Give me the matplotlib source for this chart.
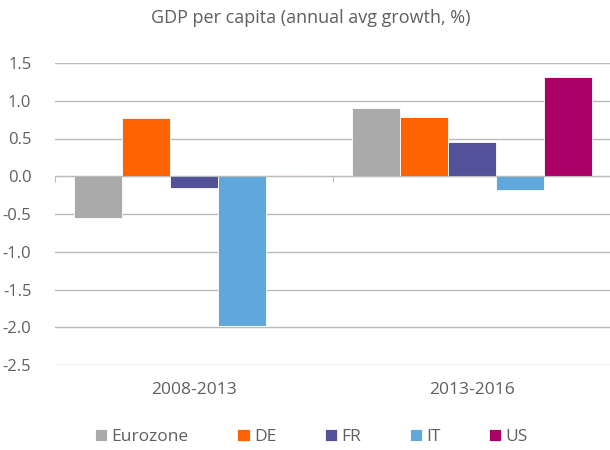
import matplotlib
matplotlib.use("Agg")
import matplotlib.pyplot as plt
import numpy as np

periods = ["2008-2013", "2013-2016"]
series = ["Eurozone", "DE", "FR", "IT", "US"]
eurozone = [-0.55, 0.90]
de = [0.77, 0.78]
fr = [-0.16, 0.46]
it = [-1.98, -0.18]
us = [0.01, 1.32]
colors = ["#AAAAAA", "#FF6200", "#525199", "#60A7DB", "#AB0066"]

plt.rcParams['font.family'] = ['Open Sans', 'DejaVu Sans']
txt = "#5f5f5f"

fig = plt.figure(figsize=(6.1, 4.5), dpi=100)
ax = fig.add_axes([55/610, 1 - 365/450, 556/610, 302/450])

x = np.arange(len(periods))
w = 0.1727
for i, vals in enumerate([eurozone, de, fr, it, us]):
    ax.bar(x + (i - 2) * w, vals, w, color=colors[i], label=series[i],
           edgecolor="white", linewidth=0.6, zorder=3)

ax.set_xlim(-0.5, 1.5)
ax.set_ylim(-2.5, 1.5)
ax.set_yticks(np.arange(-2.5, 1.51, 0.5))
ax.set_yticklabels([f"{v:.1f}" for v in np.arange(-2.5, 1.51, 0.5)])
ax.yaxis.grid(True, color="#BBBBBB", linewidth=1.0, zorder=0)
ax.tick_params(axis="y", length=0, pad=17, labelsize=12, labelcolor=txt)

for s in ["left", "right", "top"]:
    ax.spines[s].set_visible(False)
ax.spines["bottom"].set_position(("data", 0))
ax.spines["bottom"].set_color("#BBBBBB")
ax.spines["bottom"].set_zorder(4)
ax.set_xticks([-0.5, 0.5, 1.5])
ax.set_xticklabels([])
ax.tick_params(axis="x", length=4, color="#BBBBBB", direction="out")

sec = ax.secondary_xaxis("bottom")
sec.set_xticks(x)
sec.set_xticklabels(periods)
sec.tick_params(length=0, pad=12, labelsize=12.5, labelcolor=txt)
sec.spines["bottom"].set_visible(False)

fig.text(0.51, 0.96, "GDP per capita (annual avg growth, %)", ha="center",
         va="center", fontsize=13, color=txt)

leg = fig.legend(loc="center", bbox_to_anchor=(0.511, 0.028), ncol=5,
                 frameon=False, handlelength=0.7, handleheight=0.7,
                 handletextpad=0.25, columnspacing=2.8, fontsize=12.5)
for t in leg.get_texts():
    t.set_color(txt)

fig.savefig("out.png", dpi=100)
